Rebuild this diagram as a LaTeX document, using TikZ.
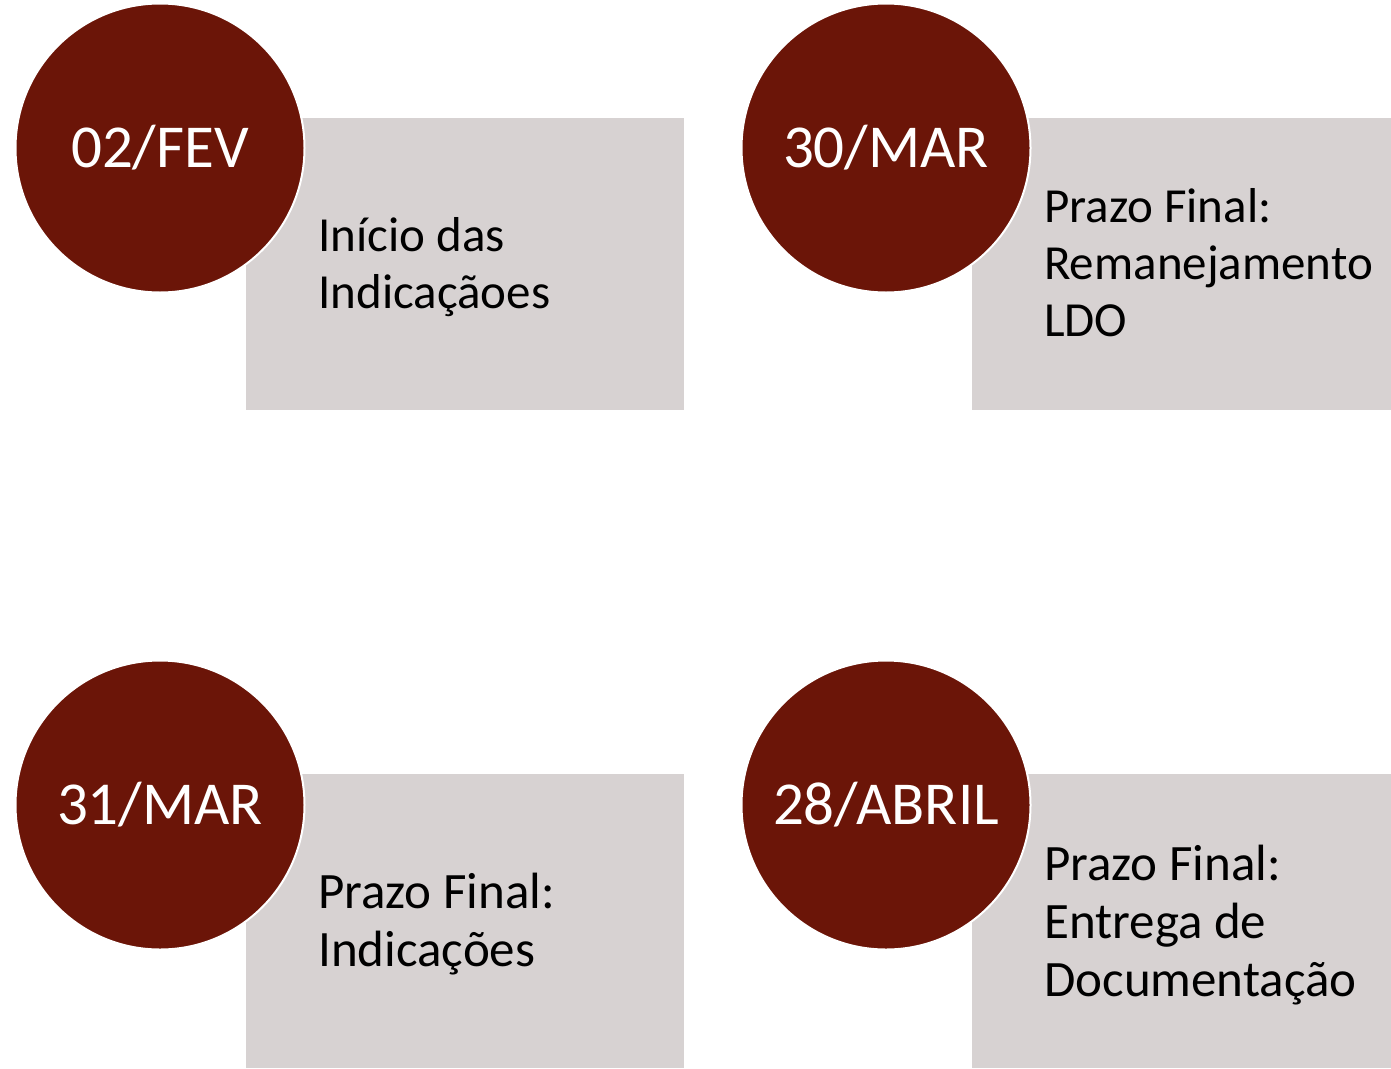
\documentclass[tikz,border=0pt]{standalone}
\usepackage{fontspec}
\setmainfont{Carlito}
\definecolor{circred}{HTML}{6B1508}
\definecolor{boxgray}{HTML}{D7D2D2}
\begin{document}
\begin{tikzpicture}[x=1pt,y=-1pt,
  panel/.style={fill=boxgray,draw=none},
  datecirc/.style={circle,fill=circred,draw=white,line width=2pt,minimum size=289pt,inner sep=0pt,text=white,font=\fontsize{61}{66}\selectfont,text depth=4pt},
  desc/.style={anchor=base west,align=left,inner sep=0pt,text=black,font=\fontsize{49}{57}\selectfont},
  descb/.style={desc,font=\fontsize{51}{58}\selectfont}]
\useasboundingbox (0,0) rectangle (1391,1068);
% boxes
\fill[panel] (246,118) rectangle (684,410);
\fill[panel] (972,118) rectangle (1391,410);
\fill[panel] (246,774) rectangle (684,1068);
\fill[panel] (972,774) rectangle (1391,1068);
% circles
\node[datecirc] (c1) at (160,148) {02/FEV};
\node[datecirc] (c2) at (886,148) {30/MAR};
\node[datecirc] (c3) at (160,805) {31/MAR};
\node[datecirc] (c4) at (886,805) {28/ABRIL};
% texts (anchor = baseline of last line)
\node[desc] (t1) at (318,308) {Início das\\Indicaçãoes};
\node[desc] (t2) at (1044,336) {Prazo Final:\\Remanejamento\\LDO};
\node[descb] (t3) at (318,966) {Prazo Final:\\Indicações};
\node[descb] (t4) at (1044,996) {Prazo Final:\\Entrega de\\Documentação};
\end{tikzpicture}
\end{document}
